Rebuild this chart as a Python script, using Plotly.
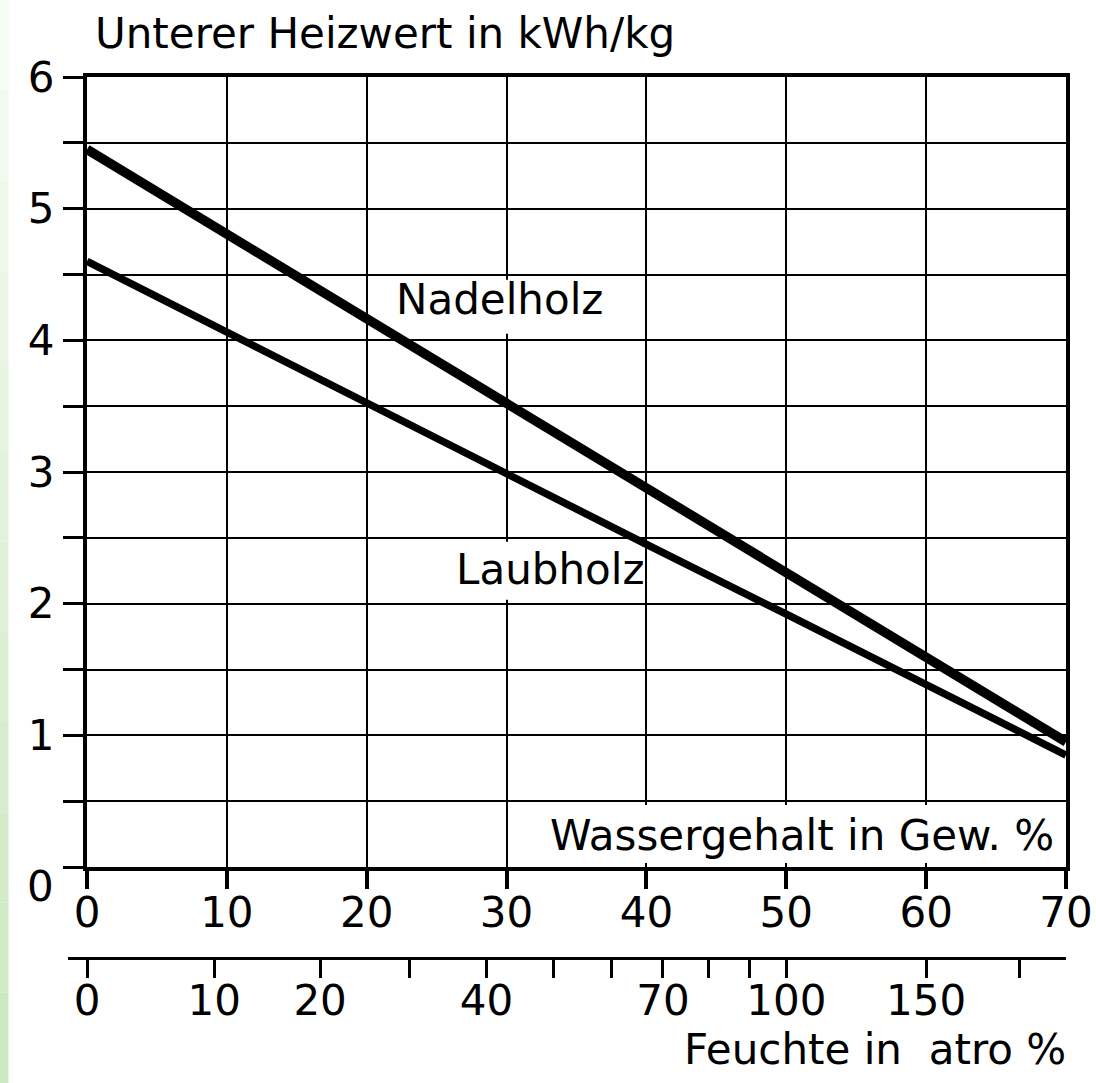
import plotly.graph_objects as go

# ---- data ----
wassergehalt = [0, 10, 20, 30, 40, 50, 60, 70]
nadelholz = [5.45, 4.81, 4.17, 3.52, 2.88, 2.24, 1.59, 0.95]
laubholz = [4.60, 4.06, 3.53, 2.99, 2.45, 1.92, 1.38, 0.85]

y_ticks = [0, 0.5, 1, 1.5, 2, 2.5, 3, 3.5, 4, 4.5, 5, 5.5, 6]
y_labels = ["", "", "1", "", "2", "", "3", "", "4", "", "5", "", "6"]
x_ticks = [0, 10, 20, 30, 40, 50, 60, 70]
x_labels = ["0", "10", "20", "30", "40", "50", "60", "70"]

feuchte_ticks = [0, 10, 20, 30, 40, 50, 60, 70, 80, 90, 100, 150, 200]
feuchte_labels = ["0", "10", "20", "", "40", "", "", "70", "", "", "100", "150", ""]

# ---- layout geometry (pixels) ----
W, H = 1096, 1083
px_l, px_r = 87, 1066
px_top, px_bot = 77, 867
px_x2 = 957
ext_left = 68

FONT = "DejaVu Sans"
FS = 42

x_dom = [px_l / W, px_r / W]
y_dom = [(H - px_bot) / H, (H - px_top) / H]
ppu = (px_r - px_l) / 70.0
x2_lo = -(px_l - ext_left) / ppu
x2_dom = [ext_left / W, px_r / W]
y2_pos = (H - px_x2) / H

# conversion of atro-% moisture to water content (Gew.-%)
feuchte_pos = [100.0 * u / (100.0 + u) for u in feuchte_ticks]

fig = go.Figure()

fig.add_trace(go.Scatter(x=wassergehalt, y=nadelholz, mode="lines",
                         line=dict(color="black", width=9.5), showlegend=False,
                         hoverinfo="skip"))
fig.add_trace(go.Scatter(x=wassergehalt, y=laubholz, mode="lines",
                         line=dict(color="black", width=7.5), showlegend=False,
                         hoverinfo="skip"))
# invisible trace that binds the secondary (Feuchte) axis so it gets drawn
fig.add_trace(go.Scatter(x=feuchte_pos, y=[None] * len(feuchte_pos),
                         xaxis="x2", yaxis="y2", mode="lines",
                         showlegend=False, hoverinfo="skip"))

fig.update_layout(
    template="none",
    width=W, height=H,
    margin=dict(l=0, r=0, t=0, b=0, pad=0),
    paper_bgcolor="white", plot_bgcolor="white",
    showlegend=False,
    font=dict(family=FONT, size=FS, color="black"),
    xaxis=dict(domain=x_dom, range=[0, 70], tickmode="array",
               tickvals=x_ticks, ticktext=x_labels, automargin=False,
               showgrid=True, gridcolor="black", gridwidth=2,
               showline=True, linecolor="black", linewidth=4, mirror=True,
               ticks="outside", ticklen=18, tickwidth=4, tickcolor="black",
               ticklabelstandoff=-12,
               zeroline=False, fixedrange=True, anchor="y"),
    yaxis=dict(domain=y_dom, range=[0, 6], tickmode="array",
               tickvals=y_ticks, ticktext=y_labels, automargin=False,
               showgrid=True, gridcolor="black", gridwidth=2,
               showline=True, linecolor="black", linewidth=4, mirror=True,
               ticks="outside", ticklen=20, tickwidth=3, tickcolor="black",
               zeroline=False, fixedrange=True, anchor="x"),
    xaxis2=dict(domain=x2_dom, range=[x2_lo, 70], anchor="y2", side="bottom",
                tickmode="array", tickvals=feuchte_pos, ticktext=feuchte_labels,
                automargin=False, ticklabelstandoff=-13,
                showgrid=False, showline=True, linecolor="black", linewidth=3,
                ticks="outside", ticklen=18, tickwidth=3, tickcolor="black",
                zeroline=False, fixedrange=True),
    yaxis2=dict(domain=[y2_pos, y2_pos + 0.002], anchor="x2", visible=False,
                showgrid=False, zeroline=False, fixedrange=True, range=[0, 1]),
)

# white boxes behind texts inside the plot (cover grid lines only)
fig.add_shape(type="rect", xref="x", yref="y", x0=31.4, x1=69.9, y0=0.03, y1=0.47,
              fillcolor="white", line=dict(width=0), layer="between")
fig.add_shape(type="rect", xref="x", yref="y", x0=22.0, x1=37.2, y0=4.05, y1=4.46,
              fillcolor="white", line=dict(width=0), layer="between")
fig.add_shape(type="rect", xref="x", yref="y", x0=26.3, x1=39.8, y0=2.03, y1=2.47,
              fillcolor="white", line=dict(width=0), layer="between")

# green strip at the left page edge (gradient approximated by bands)
n_bands = 12
top_c = (246, 251, 243)
bot_c = (204, 232, 192)
for i in range(n_bands):
    t = i / (n_bands - 1)
    c = tuple(int(round(top_c[k] + (bot_c[k] - top_c[k]) * t)) for k in range(3))
    fig.add_shape(type="rect", xref="paper", yref="paper",
                  x0=0, x1=8.5 / W,
                  y0=1 - (i + 1) / n_bands, y1=1 - i / n_bands,
                  fillcolor="rgb(%d,%d,%d)" % c, line=dict(width=0), layer="below")

fig.add_annotation(text="Unterer Heizwert in kWh/kg", xref="paper", yref="paper",
                   x=93 / W, y=(H - 33) / H, xanchor="left", yanchor="middle",
                   showarrow=False, font=dict(size=FS))
fig.add_annotation(text="Nadelholz", xref="x", yref="y", x=29.5, y=4.31,
                   showarrow=False, font=dict(size=FS))
fig.add_annotation(text="Laubholz", xref="x", yref="y", x=33.1, y=2.26,
                   showarrow=False, font=dict(size=FS))
fig.add_annotation(text="Wassergehalt in Gew. %", xref="x", yref="y", x=69.3, y=0.24,
                   xanchor="right", showarrow=False, font=dict(size=FS))
fig.add_annotation(text="0", xref="paper", yref="y", x=40 / W, y=0, yshift=-19,
                   xanchor="center", showarrow=False, font=dict(size=FS))
fig.add_annotation(text="Feuchte in  atro %", xref="paper", yref="paper",
                   x=1068 / W, y=(H - 1049) / H, xanchor="right", yanchor="middle",
                   showarrow=False, font=dict(size=FS))

fig.write_html("out.html", config=dict(displayModeBar=False),
               post_script="document.body.style.margin='0';")
